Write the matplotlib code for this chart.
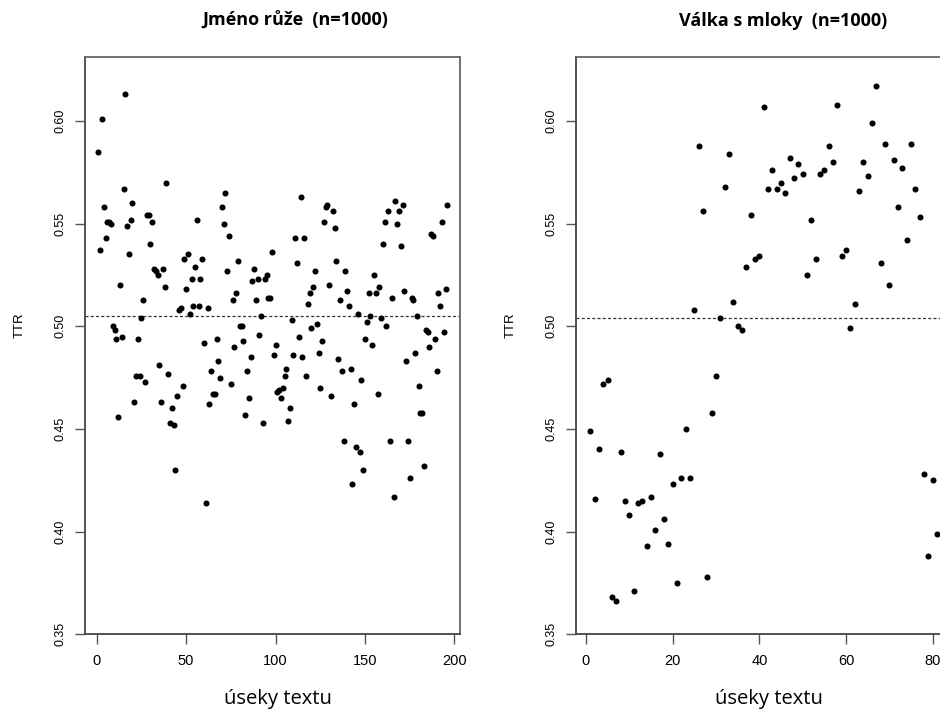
import matplotlib
matplotlib.use("Agg")
import matplotlib.pyplot as plt
import numpy as np

# type-token ratio per text segment of 1000 words
rose_ttr = [
    0.585, 0.537, 0.601, 0.558, 0.543, 0.551, 0.551, 0.550, 0.500, 0.498,
    0.494, 0.456, 0.520, 0.495, 0.567, 0.613, 0.549, 0.535, 0.552, 0.560,
    0.463, 0.476, 0.494, 0.476, 0.504, 0.513, 0.473, 0.554, 0.554, 0.540,
    0.551, 0.528, 0.527, 0.525, 0.481, 0.463, 0.528, 0.519, 0.570, 0.477,
    0.453, 0.460, 0.452, 0.430, 0.466, 0.508, 0.509, 0.471, 0.533, 0.518,
    0.535, 0.506, 0.523, 0.510, 0.529, 0.552, 0.510, 0.523, 0.533, 0.492,
    0.414, 0.509, 0.462, 0.478, 0.467, 0.467, 0.494, 0.483, 0.475, 0.558,
    0.550, 0.565, 0.527, 0.544, 0.472, 0.513, 0.490, 0.516, 0.532, 0.500,
    0.500, 0.493, 0.457, 0.478, 0.465, 0.485, 0.522, 0.528, 0.513, 0.523,
    0.496, 0.505, 0.453, 0.523, 0.525, 0.514, 0.514, 0.536, 0.486, 0.491,
    0.468, 0.469, 0.465, 0.470, 0.476, 0.479, 0.454, 0.460, 0.503, 0.486,
    0.543, 0.531, 0.495, 0.563, 0.485, 0.543, 0.476, 0.511, 0.516, 0.499,
    0.519, 0.527, 0.501, 0.487, 0.470, 0.493, 0.551, 0.558, 0.559, 0.520,
    0.466, 0.556, 0.548, 0.532, 0.484, 0.513, 0.478, 0.444, 0.527, 0.517,
    0.510, 0.479, 0.423, 0.462, 0.441, 0.506, 0.439, 0.474, 0.430, 0.494,
    0.502, 0.516, 0.505, 0.491, 0.525, 0.516, 0.467, 0.519, 0.504, 0.540,
    0.551, 0.500, 0.556, 0.444, 0.514, 0.417, 0.561, 0.550, 0.556, 0.539,
    0.559, 0.517, 0.483, 0.444, 0.426, 0.514, 0.513, 0.487, 0.505, 0.471,
    0.458, 0.458, 0.432, 0.498, 0.497, 0.490, 0.545, 0.544, 0.494, 0.478,
    0.516, 0.510, 0.551, 0.497, 0.518, 0.559,
]
newts_ttr = [
    0.449, 0.416, 0.440, 0.472, 0.474, 0.368, 0.366, 0.439, 0.415, 0.408,
    0.371, 0.414, 0.415, 0.393, 0.417, 0.401, 0.438, 0.406, 0.394, 0.423,
    0.375, 0.426, 0.450, 0.426, 0.508, 0.588, 0.556, 0.378, 0.458, 0.476,
    0.504, 0.568, 0.584, 0.512, 0.500, 0.498, 0.529, 0.554, 0.533, 0.534,
    0.607, 0.567, 0.576, 0.567, 0.570, 0.565, 0.582, 0.572, 0.579, 0.574,
    0.525, 0.552, 0.533, 0.574, 0.576, 0.588, 0.580, 0.608, 0.534, 0.537,
    0.499, 0.511, 0.566, 0.580, 0.573, 0.599, 0.617, 0.531, 0.589, 0.520,
    0.581, 0.558, 0.577, 0.542, 0.589, 0.567, 0.553, 0.428, 0.388, 0.425,
    0.399,
]
rose_mean = 0.505
newts_mean = 0.504

titles = ["Jméno růže  (n=1000)", "Válka s mloky  (n=1000)"]
rose_xticks = [0, 50, 100, 150, 200]
newts_xticks = [0, 20, 40, 60, 80]
yticks = [0.35, 0.40, 0.45, 0.50, 0.55, 0.60]

W, H = 940, 710
fig = plt.figure(figsize=(W / 100, H / 100), dpi=100)
fig.patch.set_facecolor("white")

TICK_FONT = "Liberation Sans"
HUMAN_FONT = "Open Sans"


def panel(left_px, ttr, mean, xticks, xlim, title, title_px):
    ax = fig.add_axes([left_px / W, (H - 634.3) / H, 375 / W, 577 / H])
    x = np.arange(1, len(ttr) + 1)
    ax.scatter(x, ttr, s=19, color="black", linewidths=0, zorder=3)
    ax.axhline(mean, color="#333333", lw=0.9, dashes=(2.4, 1.8), zorder=2)
    ax.set_xlim(*xlim)
    ax.set_ylim(0.35, 0.631)
    ax.set_xticks(xticks)
    ax.set_yticks(yticks)
    ax.set_xticklabels([str(t) for t in xticks], fontfamily=TICK_FONT, fontsize=10.5)
    ax.set_yticklabels(["%.2f" % t for t in yticks], fontfamily=TICK_FONT,
                       fontsize=9, rotation=90, va="center")
    ax.tick_params(axis="x", length=7, width=1, color="#555555", pad=7)
    ax.tick_params(axis="y", length=7, width=1, color="#555555", pad=6)
    for s in ax.spines.values():
        s.set_color("#666666")
        s.set_linewidth(1.3)
    ax.spines["left"].set_color("#444444")
    ax.spines["bottom"].set_color("#444444")
    ax.text(-65 / 375, (634.3 - 325) / 577, "TTR", transform=ax.transAxes,
            rotation=90, ha="center", va="center", fontfamily=TICK_FONT, fontsize=9.5)
    fig.text(title_px / W, 1 - 21 / H, title, ha="center", va="center",
             fontfamily=HUMAN_FONT, fontweight="bold", fontsize=13)
    fig.text((left_px + 193) / W, 1 - 699 / H, "úseky textu", ha="center", va="center",
             fontfamily=HUMAN_FONT, fontsize=14.5)
    return ax


panel(85, rose_ttr, rose_mean, rose_xticks, (-6.54, 203.1), titles[0], 295)
panel(576, newts_ttr, newts_mean, newts_xticks, (-2.3, 84.2), titles[1], 783)

fig.savefig("out.png", dpi=100)
